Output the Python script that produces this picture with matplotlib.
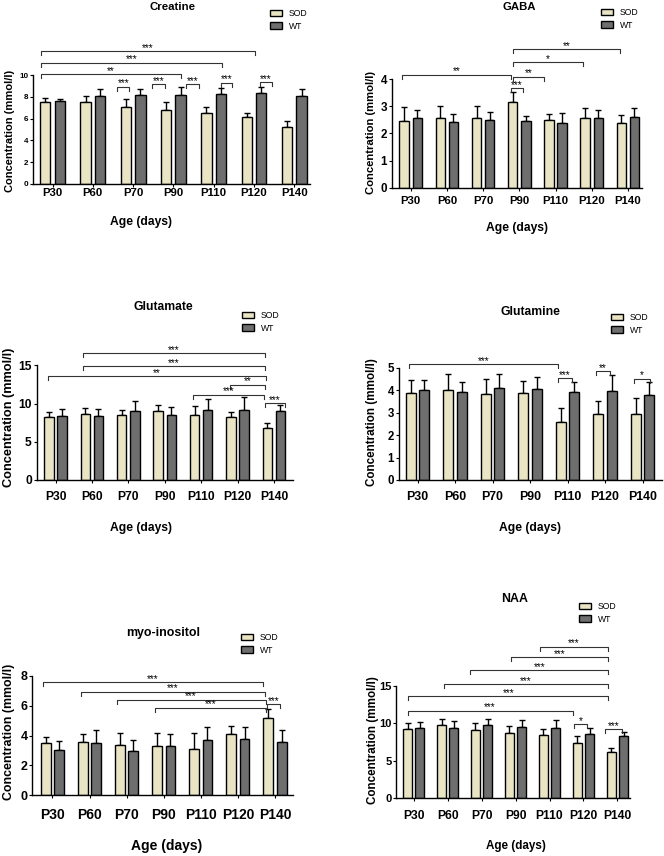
import matplotlib
matplotlib.use('Agg')
import matplotlib.pyplot as plt
from matplotlib.patches import Patch
import numpy as np

W, H = 664, 856
plt.rcParams['font.family'] = ['Liberation Sans', 'DejaVu Sans']

ages = ['P30', 'P60', 'P70', 'P90', 'P110', 'P120', 'P140']
groups = ['SOD', 'WT']

creatine_sod = [7.49, 7.55, 7.09, 6.79, 6.51, 6.15, 5.23]
creatine_sod_err = [0.37, 0.49, 0.68, 0.73, 0.55, 0.39, 0.55]
creatine_wt = [7.65, 8.07, 8.17, 8.20, 8.23, 8.32, 8.10]
creatine_wt_err = [0.18, 0.62, 0.52, 0.67, 0.58, 0.58, 0.62]
creatine_sig = [(-0.285, 5.02, 12.2, '***'), (-0.285, 4.2, 11.13, '***'), (-0.285, 3.2, 10.06, '**'),
                (1.61, 1.91, 8.93, '***'), (2.48, 2.79, 9.17, '***'), (3.31, 3.64, 9.17, '***'),
                (4.18, 4.46, 9.27, '***'), (5.15, 5.44, 9.33, '***')]

gaba_sod = [2.47, 2.56, 2.56, 3.15, 2.50, 2.56, 2.38]
gaba_sod_err = [0.52, 0.47, 0.47, 0.37, 0.21, 0.37, 0.30]
gaba_wt = [2.58, 2.44, 2.51, 2.45, 2.38, 2.56, 2.60]
gaba_wt_err = [0.29, 0.27, 0.30, 0.21, 0.39, 0.32, 0.33]
gaba_sig = [(-0.23, 2.77, 4.16, '**'), (2.77, 3.09, 3.67, '***'), (2.83, 3.69, 4.10, '**'),
            (2.83, 4.77, 4.62, '*'), (2.83, 5.78, 5.10, '**')]

glutamate_sod = [8.20, 8.60, 8.52, 9.04, 8.56, 8.20, 6.81]
glutamate_sod_err = [0.75, 0.79, 0.61, 0.83, 1.09, 0.66, 0.61]
glutamate_wt = [8.43, 8.43, 9.04, 8.52, 9.21, 9.17, 9.08]
glutamate_wt_err = [0.83, 0.83, 1.35, 1.04, 1.40, 1.66, 0.75]
glutamate_sig = [(0.76, 5.76, 16.6, '***'), (0.75, 5.75, 14.85, '***'), (-0.21, 5.78, 13.54, '**'),
                 (4.79, 5.76, 12.45, '**'), (3.77, 5.74, 11.14, '***'), (5.76, 6.31, 10.04, '***')]

glutamine_sod = [3.89, 4.02, 3.81, 3.89, 2.60, 2.95, 2.92]
glutamine_sod_err = [0.56, 0.68, 0.70, 0.50, 0.62, 0.58, 0.74]
glutamine_wt = [3.99, 3.90, 4.08, 4.07, 3.92, 3.98, 3.78]
glutamine_wt_err = [0.46, 0.46, 0.64, 0.50, 0.43, 0.69, 0.57]
glutamine_sig = [(-0.22, 3.74, 5.15, '***'), (3.74, 4.11, 4.53, '***'), (4.76, 5.12, 4.85, '**'),
                 (5.78, 6.2, 4.5, '*')]

myo_sod = [3.52, 3.57, 3.36, 3.30, 3.09, 4.10, 5.20]
myo_sod_err = [0.38, 0.56, 0.83, 0.85, 1.06, 0.52, 0.56]
myo_wt = [3.03, 3.52, 2.96, 3.30, 3.70, 3.77, 3.59]
myo_wt_err = [0.60, 0.83, 0.76, 0.78, 0.90, 0.83, 0.78]
myo_sig = [(-0.25, 5.68, 7.58, '***'), (0.76, 5.73, 6.95, '***'), (1.73, 5.75, 6.39, '***'),
           (2.77, 5.75, 5.87, '***'), (5.78, 6.13, 6.1, '***')]

naa_sod = [9.24, 9.78, 9.16, 8.76, 8.49, 7.38, 6.22]
naa_sod_err = [0.85, 0.80, 0.93, 0.88, 0.80, 0.93, 0.49]
naa_wt = [9.42, 9.42, 9.73, 9.47, 9.42, 8.53, 8.27]
naa_wt_err = [0.80, 0.94, 0.85, 0.97, 1.02, 0.89, 0.62]
naa_sig = [(3.72, 5.73, 20.2, '***'), (2.86, 5.73, 18.8, '***'), (1.67, 5.73, 17.1, '***'),
           (0.89, 5.73, 15.24, '***'), (-0.16, 5.73, 13.64, '***'), (-0.18, 4.68, 11.69, '***'),
           (4.72, 5.11, 9.87, '*'), (5.63, 6.13, 9.24, '***')]

SOD_C = '#E9E4C4'
WT_C = '#6E6E6E'

panels = [
    dict(title='Creatine', sod=creatine_sod, sod_err=creatine_sod_err, wt=creatine_wt, wt_err=creatine_wt_err,
         sig=creatine_sig, ymax=10, yticks=[0, 2, 4, 6, 8, 10],
         g0=52.5, sp=40.3, xlim=(-0.48, 6.4), top=75, bottom=184,
         title_xy=(173, 7, 8.2), age_xy=(141, 222, 8.7), ylab_xy=(10, 131, 8.0), leg=(270, 10),
         xfs=8.2, yfs=5.8, xpad=0.8),
    dict(title='GABA', sod=gaba_sod, sod_err=gaba_sod_err, wt=gaba_wt, wt_err=gaba_wt_err,
         sig=gaba_sig, ymax=4, yticks=[0, 1, 2, 3, 4],
         g0=410.7, sp=36.2, xlim=(-0.525, 6.39), top=79.3, bottom=187.7,
         title_xy=(519, 7, 8.2), age_xy=(517, 228, 8.7), ylab_xy=(371, 132, 8.1), leg=(601, 9),
         xfs=8.2, yfs=8.4, xpad=3.5),
    dict(title='Glutamate', sod=glutamate_sod, sod_err=glutamate_sod_err, wt=glutamate_wt, wt_err=glutamate_wt_err,
         sig=glutamate_sig, ymax=15, yticks=[0, 5, 10, 15],
         g0=55.5, sp=36.4, xlim=(-0.52, 6.52), top=365.3, bottom=480,
         title_xy=(163, 307, 8.7), age_xy=(141, 528, 8.7), ylab_xy=(9, 417, 9.2), leg=(242, 312),
         xfs=8.7, yfs=8.7, xpad=6.0),
    dict(title='Glutamine', sod=glutamine_sod, sod_err=glutamine_sod_err, wt=glutamine_wt, wt_err=glutamine_wt_err,
         sig=glutamine_sig, ymax=5, yticks=[0, 1, 2, 3, 4, 5],
         g0=417.5, sp=37.5, xlim=(-0.5, 6.52), top=367.7, bottom=480,
         title_xy=(530, 312, 8.7), age_xy=(530, 528, 8.7), ylab_xy=(372, 422, 8.4), leg=(611, 314),
         xfs=8.9, yfs=8.3, xpad=5.9),
    dict(title='myo-inositol', sod=myo_sod, sod_err=myo_sod_err, wt=myo_wt, wt_err=myo_wt_err,
         sig=myo_sig, ymax=8, yticks=[0, 2, 4, 6, 8],
         g0=52.4, sp=37.1, xlim=(-0.54, 6.49), top=676, bottom=795,
         title_xy=(163, 633, 8.9), age_xy=(167, 846, 10.0), ylab_xy=(9, 732, 8.9), leg=(241, 634),
         xfs=10.0, yfs=9.0, xpad=7.3),
    dict(title='NAA', sod=naa_sod, sod_err=naa_sod_err, wt=naa_wt, wt_err=naa_wt_err,
         sig=naa_sig, ymax=15, yticks=[0, 5, 10, 15],
         g0=413.7, sp=33.95, xlim=(-0.51, 6.37), top=685.8, bottom=798.3,
         title_xy=(515, 599, 8.9), age_xy=(516, 846, 8.4), ylab_xy=(373, 740, 8.35), leg=(579, 603),
         xfs=8.7, yfs=8.0, xpad=6.0),
]

fig = plt.figure(figsize=(W / 100, H / 100), dpi=100)

BW = 0.26
OFF = 0.18


def ftext(x, y, s, **kw):
    fig.text(x / W, 1 - y / H, s, **kw)


for p in panels:
    g0, sp = p['g0'], p['sp']
    xl, xr = p['xlim']
    left = g0 + xl * sp
    right = g0 + xr * sp
    top, bottom = p['top'], p['bottom']
    ax = fig.add_axes([left / W, 1 - bottom / H, (right - left) / W, (bottom - top) / H])
    x = np.arange(len(ages))
    zeros = np.zeros(len(ages))
    ax.bar(x - OFF, p['sod'], BW, color=SOD_C, edgecolor='black', linewidth=1.0, zorder=2)
    ax.bar(x + OFF, p['wt'], BW, color=WT_C, edgecolor='black', linewidth=1.0, zorder=2)
    ax.errorbar(x - OFF, p['sod'], yerr=[zeros, p['sod_err']], fmt='none', ecolor='black',
                elinewidth=1.0, capsize=2.3, capthick=1.0, zorder=1)
    ax.errorbar(x + OFF, p['wt'], yerr=[zeros, p['wt_err']], fmt='none', ecolor='black',
                elinewidth=1.0, capsize=2.3, capthick=1.0, zorder=1)
    ax.set_xlim(xl, xr)
    ax.set_ylim(0, p['ymax'])
    ax.set_yticks(p['yticks'])
    ax.set_xticks(x)
    ax.set_xticklabels(ages, fontsize=p['xfs'], fontweight='bold')
    for lbl in ax.get_yticklabels():
        lbl.set_fontweight('bold')
        lbl.set_fontsize(p['yfs'])
    for s in ['top', 'right']:
        ax.spines[s].set_visible(False)
    for s in ['left', 'bottom']:
        ax.spines[s].set_linewidth(1.0)
    ax.tick_params(axis='x', length=2.2, width=0.8, pad=p['xpad'])
    ax.tick_params(axis='y', length=2.2, width=0.8, pad=1.2)
    ax.patch.set_alpha(0)

    hook = 4.0 * p['ymax'] / (bottom - top)
    for (x1, x2, y, lab) in p['sig']:
        ax.plot([x1, x1, x2, x2], [y - hook, y, y, y - hook], color='#333333', lw=0.8,
                clip_on=False, zorder=3)
        ax.annotate(lab, xy=((x1 + x2) / 2, y), xytext=(0, 0.3), textcoords='offset points',
                    ha='center', va='baseline', fontsize=7.2, annotation_clip=False)

    tx, ty, tfs = p['title_xy']
    ftext(tx, ty, p['title'], ha='center', va='center', fontsize=tfs, fontweight='bold')
    axx, axy, afs = p['age_xy']
    ftext(axx, axy, 'Age (days)', ha='center', va='center', fontsize=afs, fontweight='bold')
    yx, yy, yfs = p['ylab_xy']
    ftext(yx, yy, 'Concentration (mmol/l)', ha='center', va='center', rotation=90,
          fontsize=yfs, fontweight='bold')

    lx, ly = p['leg']
    handles = [Patch(facecolor=SOD_C, edgecolor='black', linewidth=1.0),
               Patch(facecolor=WT_C, edgecolor='black', linewidth=1.0)]
    fig.legend(handles, groups, loc='upper left', bbox_to_anchor=(lx / W, 1 - (ly - 1) / H),
               bbox_transform=fig.transFigure, frameon=False, fontsize=6.2, borderpad=0,
               borderaxespad=0, handlelength=1.45, handleheight=0.85, handletextpad=0.7,
               labelspacing=0.45)

fig.savefig('out.png', dpi=100)
